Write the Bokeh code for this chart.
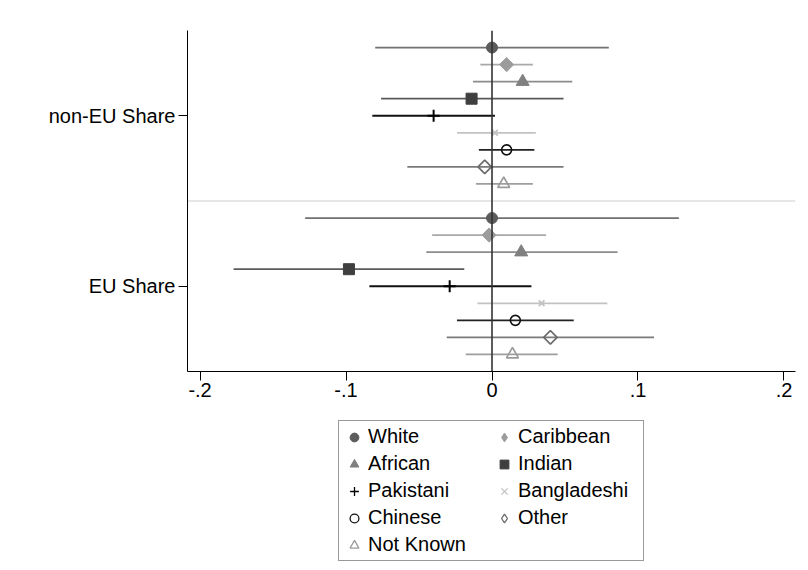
import math
import numpy as np
from bokeh.plotting import figure
from bokeh.layouts import column
from bokeh.models import (Range1d, FixedTicker, Span, Legend, LegendItem,
                          ColumnDataSource)
from bokeh.embed import file_html
from bokeh.resources import INLINE

# Coefficient estimates with 95% confidence intervals, by ethnic group
groups = ["non-EU Share", "EU Share"]
ethnicities = ["White", "Caribbean", "African", "Indian", "Pakistani",
               "Bangladeshi", "Chinese", "Other", "Not Known"]

coef_non_eu = [0.000, 0.010, 0.021, -0.014, -0.040, 0.002, 0.010, -0.005, 0.008]
lo_non_eu = [-0.080, -0.008, -0.013, -0.076, -0.082, -0.024, -0.009, -0.058, -0.011]
hi_non_eu = [0.080, 0.028, 0.055, 0.049, 0.002, 0.030, 0.029, 0.049, 0.028]

coef_eu = [0.000, -0.002, 0.020, -0.098, -0.029, 0.034, 0.016, 0.040, 0.014]
lo_eu = [-0.128, -0.041, -0.045, -0.177, -0.084, -0.010, -0.024, -0.031, -0.018]
hi_eu = [0.128, 0.037, 0.086, -0.019, 0.027, 0.079, 0.056, 0.111, 0.045]

x_ticks = [-0.2, -0.1, 0, 0.1, 0.2]
x_tick_labels = ["-.2", "-.1", "0", ".1", ".2"]

# marker, size, angle, fill colour, line colour, line width, CI colour, key marker
Q = math.pi / 4
styles = {
    "White":       ("circle",   11,   0, "#5c5c5c", "#5c5c5c", 1.0, "#707070", "circle"),
    "Caribbean":   ("square",   10,   Q, "#9c9c9c", "#9c9c9c", 1.0, "#a9a9a9", "diamond"),
    "African":     ("triangle", 13,   0, "#808080", "#808080", 1.0, "#8c8c8c", "triangle"),
    "Indian":      ("square",   11,   0, "#3f3f3f", "#3f3f3f", 1.0, "#5a5a5a", "square"),
    "Pakistani":   ("cross",    12,   0, None,      "#000000", 2.0, "#111111", "cross"),
    "Bangladeshi": ("x",        8,    0, None,      "#c2c2c2", 1.8, "#c2c2c2", "x"),
    "Chinese":     ("circle",   10,   0, None,      "#111111", 1.6, "#222222", "circle"),
    "Other":       ("square",   9.5,  Q, None,      "#6a6a6a", 1.6, "#7a7a7a", "diamond"),
    "Not Known":   ("triangle", 12,   0, None,      "#9a9a9a", 1.6, "#9e9e9e", "triangle"),
}

FONT = "Liberation Sans"
FONT_SIZE = "20px"
n = len(ethnicities)
group_gap = n + 1


def blank(fig):
    fig.outline_line_color = None
    fig.xgrid.visible = False
    fig.ygrid.visible = False
    fig.background_fill_color = "white"
    fig.border_fill_color = "white"


# thin strip with a faint rule across the top of the page
top = figure(width=808, height=10, output_backend="svg", toolbar_location=None,
             x_axis_location=None, y_axis_location=None,
             x_range=Range1d(0, 1), y_range=Range1d(0, 10), min_border=0)
blank(top)
top.add_layout(Span(location=0.5, dimension="width", line_color="#ececec",
                    line_width=1))

# main coefficient plot
p = figure(width=808, height=401, output_backend="svg", toolbar_location=None,
           x_range=Range1d(-0.2086, 0.2079), y_range=Range1d(2 * group_gap, 0),
           min_border_left=187, min_border_right=13, min_border_top=20,
           min_border_bottom=40)
blank(p)

# separator between the two groups
p.add_layout(Span(location=group_gap, dimension="width",
                  line_color="#e6e6e6", line_width=2, level="underlay"))

# confidence intervals
for i, eth in enumerate(ethnicities):
    ci = styles[eth][6]
    src = ColumnDataSource(dict(
        y=[i + 1, group_gap + i + 1],
        lo=[lo_non_eu[i], lo_eu[i]],
        hi=[hi_non_eu[i], hi_eu[i]],
    ))
    p.segment(x0="lo", x1="hi", y0="y", y1="y", source=src,
              line_color=ci, line_width=1.8)

# point estimates
for i, eth in enumerate(ethnicities):
    marker, size, angle, fill, line, lw, ci, key = styles[eth]
    src = ColumnDataSource(dict(
        y=[i + 1, group_gap + i + 1],
        x=[coef_non_eu[i], coef_eu[i]],
    ))
    p.scatter(x="x", y="y", source=src, marker=marker, size=size, angle=angle,
              fill_color=fill, line_color=line, line_width=lw)

# zero reference line
p.add_layout(Span(location=0, dimension="height", line_color="#333333",
                  line_width=1.6))

# axes
p.yaxis.ticker = FixedTicker(ticks=[(n + 1) / 2, group_gap + (n + 1) / 2])
p.yaxis.major_label_overrides = {(n + 1) / 2: groups[0],
                                 group_gap + (n + 1) / 2: groups[1]}
p.xaxis.ticker = FixedTicker(ticks=x_ticks)
p.xaxis.major_label_overrides = dict(zip(x_ticks, x_tick_labels))
for ax in (p.xaxis, p.yaxis):
    ax.major_label_text_font = FONT
    ax.major_label_text_font_size = FONT_SIZE
    ax.major_label_text_color = "black"
    ax.axis_line_color = "black"
    ax.axis_line_width = 1
    ax.major_tick_line_color = "black"
    ax.major_tick_out = 9
    ax.major_tick_in = 0
    ax.minor_tick_line_color = None
p.yaxis.major_label_standoff = 3
p.xaxis.major_label_standoff = 2

# legend panel; key glyphs carry the same styles as the point estimates
leg = figure(width=808, height=159, output_backend="svg", toolbar_location=None,
             x_axis_location=None, y_axis_location=None,
             x_range=Range1d(0, 1), y_range=Range1d(0, 1), min_border=0)
blank(leg)
keys = {}
for eth in ethnicities:
    marker, size, angle, fill, line, lw, ci, key = styles[eth]
    keys[eth] = leg.scatter(x=np.array([np.nan]), y=np.array([np.nan]),
                            marker=key, size=size,
                            fill_color=fill, line_color=line,
                            line_width=min(lw, 1.3))

# items fill column by column
order = ["White", "African", "Pakistani", "Chinese", "Not Known",
         "Caribbean", "Indian", "Bangladeshi", "Other"]
legend = Legend(items=[LegendItem(label=e, renderers=[keys[e]]) for e in order],
                location=(151, 9), ncols=2,
                label_text_font=FONT, label_text_font_size=FONT_SIZE,
                label_text_color="black",
                border_line_color="#333333", border_line_width=1,
                background_fill_color="white", background_fill_alpha=1,
                padding=4, spacing=4, glyph_width=22, glyph_height=22,
                label_standoff=3, label_width=121, label_height=22,
                margin=0)
leg.add_layout(legend)

layout = column(top, p, leg, spacing=0)
open("out.html", "w").write(file_html(layout, INLINE))
